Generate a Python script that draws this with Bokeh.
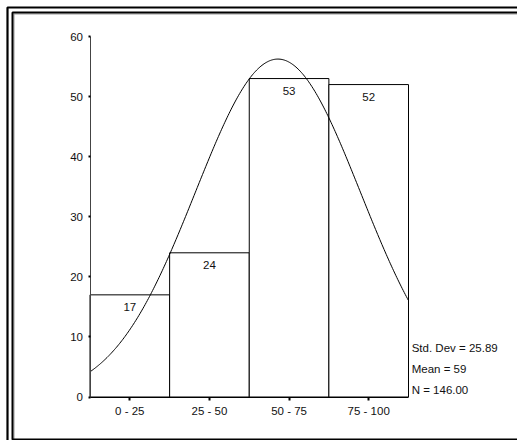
import numpy as np
from bokeh.plotting import figure
from bokeh.models import Label, BoxAnnotation, FixedTicker
from bokeh.core.properties import value
from bokeh.embed import file_html
from bokeh.resources import INLINE

# ---- data ----
categories = ["0 - 25", "25 - 50", "50 - 75", "75 - 100"]
bin_left = [0, 25, 50, 75]
bin_right = [25, 50, 75, 100]
counts = [17, 24, 53, 52]
mean = 59
std_dev = 25.89
n_total = 146.00
bin_width = 25
y_ticks = [0, 10, 20, 30, 40, 50, 60]
stats_lines = ["Std. Dev = 25.89", "Mean = 59", "N = 146.00"]

FONT = "Liberation Sans"
FS = "11.5px"

W, H = 517, 440
# pixel placement of the plotting area inside the canvas
PX_L, PX_R, PX_T, PX_B = 89.5, 408.0, 36.0, 396.5
XMIN, XMAX, YMIN, YMAX = 0, 100, 0, 60
sx = (PX_R - PX_L) / (XMAX - XMIN)
sy = (PX_B - PX_T) / (YMAX - YMIN)
x_start = XMIN - PX_L / sx
x_end = XMIN + (W - PX_L) / sx
y_end = YMIN + PX_B / sy
y_start = YMIN - (H - PX_B) / sy

p = figure(width=W, height=H, x_range=(x_start, x_end), y_range=(y_start, y_end),
           output_backend="svg", toolbar_location=None, title=None,
           min_border=0, min_border_left=0, min_border_right=0,
           min_border_top=0, min_border_bottom=0)
p.xgrid.visible = False
p.ygrid.visible = False
p.outline_line_color = None
p.background_fill_color = "white"
p.border_fill_color = "white"

# bars
p.quad(left=bin_left, right=bin_right, bottom=0, top=counts,
       fill_color="white", line_color="black", line_width=1)

# normal curve from displayed statistics
xs = np.linspace(XMIN, XMAX, 301)
ys = n_total * bin_width / (std_dev * np.sqrt(2 * np.pi)) * np.exp(-0.5 * ((xs - mean) / std_dev) ** 2)
p.line(xs, ys, line_color="black", line_width=1)

# count labels inside bars
centers = [(a + b) / 2 for a, b in zip(bin_left, bin_right)]
p.text(x=centers, y=counts, text=[str(c) for c in counts],
       text_align="center", text_baseline="middle", y_offset=12.5,
       text_font=value(FONT), text_font_size=FS, text_color="#111111")

# axes (drawn at fixed data locations)
xa = p.xaxis[0]
xa.fixed_location = YMIN
xa.bounds = (XMIN, XMAX)
xa.ticker = FixedTicker(ticks=centers)
xa.major_label_overrides = {c: lab for c, lab in zip(centers, categories)}
ya = p.yaxis[0]
ya.fixed_location = XMIN
ya.bounds = (YMIN, YMAX)
ya.ticker = FixedTicker(ticks=y_ticks)
for ax in (xa, ya):
    ax.axis_line_color = "black"
    ax.axis_line_width = 1
    ax.major_tick_in = 0
    ax.major_tick_line_width = 2
    ax.major_tick_line_color = "black"
    ax.minor_tick_line_color = None
    ax.major_label_text_font = FONT
    ax.major_label_text_font_size = FS
    ax.major_label_text_color = "#111111"
xa.major_tick_out = 3
xa.major_label_standoff = 5
ya.major_tick_out = 2
ya.major_label_standoff = 5
ya.axis_line_color = "#444444"

# statistics text
for txt, yv in zip(stats_lines, [8.14, 4.65, 1.16]):
    p.add_layout(Label(x=101.0, y=yv, text=txt, text_baseline="middle",
                       text_font=FONT, text_font_size=FS, text_color="#111111"))

# double frame around the chart
def frame_box(pos, bottom, color, width):
    return BoxAnnotation(left=pos, right=W + 50, top=pos, bottom=bottom,
                         left_units="canvas", right_units="canvas",
                         top_units="canvas", bottom_units="canvas",
                         fill_color=None, fill_alpha=0,
                         line_color=color, line_width=width, line_alpha=1)

p.add_layout(frame_box(7, H + 50, "black", 2.2))
p.add_layout(frame_box(13.5, H + 50, "#9a9a9a", 1))
p.add_layout(frame_box(12, 439, "black", 2))

html = file_html(p, INLINE, title="")
html = html.replace("<body>", '<body style="margin:0;overflow:hidden">', 1)
open("out.html", "w").write(html)
